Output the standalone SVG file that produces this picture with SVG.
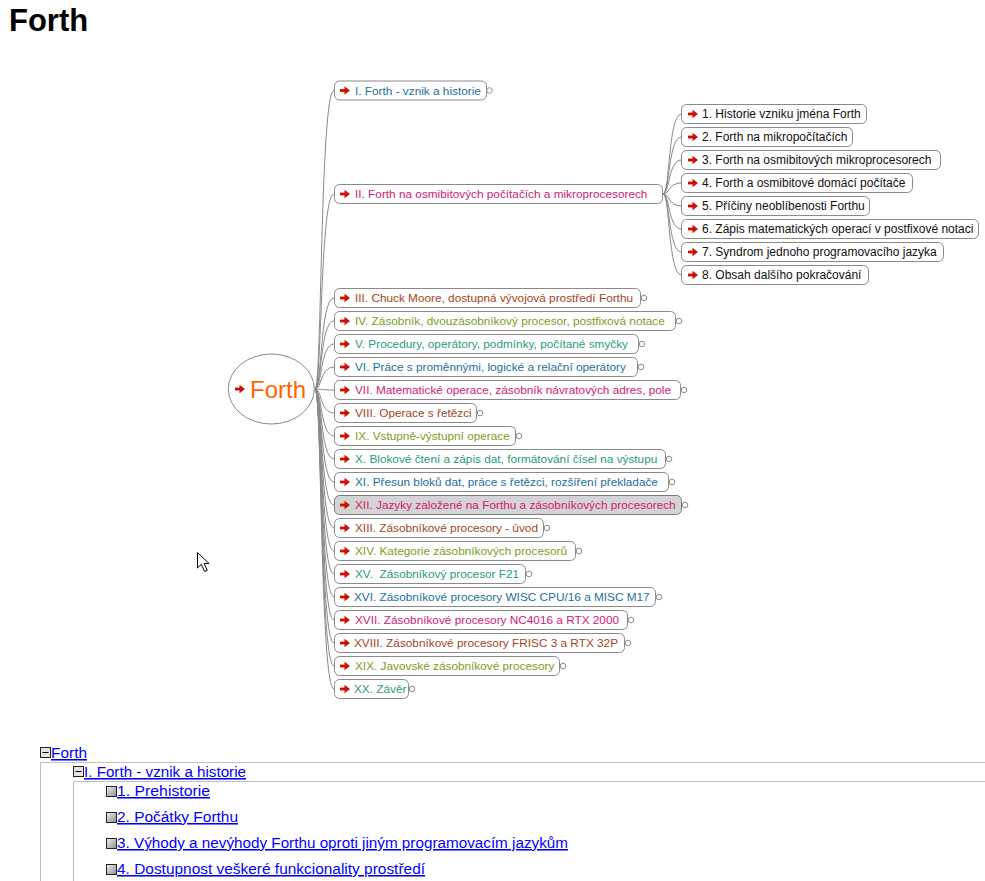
<svg xmlns="http://www.w3.org/2000/svg" xmlns:xlink="http://www.w3.org/1999/xlink" width="985" height="881" viewBox="0 0 985 881">
<style>
text{font-family:"Liberation Sans",Arial,sans-serif}
.box{fill:#fff;stroke:#8a8a8a;stroke-width:1}
.sel{fill:#d4d4d4;stroke:#7a7a7a;stroke-width:1}
.dot{fill:#fff;stroke:#8a8a8a;stroke-width:1}
.t{font-size:11.8px}
.s{font-size:12px}
.blue{fill:#21709e}.mag{fill:#d41a73}.brn{fill:#a4451e}.olv{fill:#7c9e1c}.teal{fill:#1f9d76}.blk{fill:#111}
.con{fill:none;stroke:#8a8a8a;stroke-width:1}
.link{font-size:15.5px;fill:#0000ff;text-decoration:underline}
.tree{stroke:#c0c0c0;stroke-width:1;fill:none}
</style>
<defs>
<g id="arr"><rect x="0" y="-1.4" width="5.5" height="2.8" fill="#cc1100"/><path d="M4.5,-4.2 L10,0 L4.5,4.2 Z" fill="#cc1100"/></g>
<linearGradient id="ig" x1="0" y1="0" x2="1" y2="1"><stop offset="0" stop-color="#f2f2f2"/><stop offset="1" stop-color="#8c8c8c"/></linearGradient>
<g id="minus"><rect x="0" y="0" width="10" height="10" fill="#e4e4e4" stroke="#222"/><line x1="2" y1="5" x2="8" y2="5" stroke="#000"/></g>
<rect id="leaf" x="0" y="0" width="10" height="10" fill="url(#ig)" stroke="#222"/>
</defs>
<rect width="985" height="881" fill="#fff"/>
<text x="9" y="31" font-size="31" font-weight="bold" fill="#000">Forth</text>

<g id="connectors">
<path class="con" d="M315,389 C322,389 320,90.5 334,90.5"/>
<path class="con" d="M315,389 C322,389 320,194 334,194"/>
<path class="con" d="M315,389 C322,389 320,298 334,298"/>
<path class="con" d="M315,389 C322,389 320,321 334,321"/>
<path class="con" d="M315,389 C322,389 320,344 334,344"/>
<path class="con" d="M315,389 C322,389 320,367 334,367"/>
<path class="con" d="M315,389 C322,389 320,390 334,390"/>
<path class="con" d="M315,389 C322,389 320,413 334,413"/>
<path class="con" d="M315,389 C322,389 320,436 334,436"/>
<path class="con" d="M315,389 C322,389 320,459 334,459"/>
<path class="con" d="M315,389 C322,389 320,482 334,482"/>
<path class="con" d="M315,389 C322,389 320,505 334,505"/>
<path class="con" d="M315,389 C322,389 320,528 334,528"/>
<path class="con" d="M315,389 C322,389 320,551 334,551"/>
<path class="con" d="M315,389 C322,389 320,574 334,574"/>
<path class="con" d="M315,389 C322,389 320,597 334,597"/>
<path class="con" d="M315,389 C322,389 320,620 334,620"/>
<path class="con" d="M315,389 C322,389 320,643 334,643"/>
<path class="con" d="M315,389 C322,389 320,666 334,666"/>
<path class="con" d="M315,389 C322,389 320,689 334,689"/>
<path class="con" d="M663,194 C670,194 668,114 681.5,114"/>
<path class="con" d="M663,194 C670,194 668,137 681.5,137"/>
<path class="con" d="M663,194 C670,194 668,160 681.5,160"/>
<path class="con" d="M663,194 C670,194 668,183 681.5,183"/>
<path class="con" d="M663,194 C670,194 668,206 681.5,206"/>
<path class="con" d="M663,194 C670,194 668,229 681.5,229"/>
<path class="con" d="M663,194 C670,194 668,252 681.5,252"/>
<path class="con" d="M663,194 C670,194 668,275 681.5,275"/>
</g>

<g id="root">
<ellipse cx="271.3" cy="389" rx="43" ry="35" fill="#fff" stroke="#8a8a8a"/>
<use xlink:href="#arr" href="#arr" x="235" y="389"/>
<text x="250" y="397.5" font-size="24" fill="#ff6600">Forth</text>
</g>

<g id="n1"><rect class="box" x="334.5" y="81" width="152" height="19" rx="5"/><use href="#arr" xlink:href="#arr" x="340" y="90.5"/><text class="t blue" x="355" y="94.5">I. Forth - vznik a historie</text><circle class="dot" cx="489.5" cy="90.5" r="2.8"/></g>
<g id="n2"><rect class="box" x="334.5" y="184.5" width="328" height="19" rx="5"/><use href="#arr" xlink:href="#arr" x="340" y="194"/><text class="t mag" x="355" y="198">II. Forth na osmibitových počítačích a mikroprocesorech</text></g>
<g id="n3"><rect class="box" x="334.5" y="288.5" width="306" height="19" rx="5"/><use href="#arr" xlink:href="#arr" x="340" y="298"/><text class="t brn" x="355" y="302">III. Chuck Moore, dostupná vývojová prostředí Forthu</text><circle class="dot" cx="644" cy="298" r="2.8"/></g>
<g id="n4"><rect class="box" x="334.5" y="311.5" width="341" height="19" rx="5"/><use href="#arr" xlink:href="#arr" x="340" y="321"/><text class="t olv" x="355" y="325">IV. Zásobník, dvouzásobníkový procesor, postfixová notace</text><circle class="dot" cx="679" cy="321" r="2.8"/></g>
<g id="n5"><rect class="box" x="334.5" y="334.5" width="304" height="19" rx="5"/><use href="#arr" xlink:href="#arr" x="340" y="344"/><text class="t teal" x="355" y="348">V. Procedury, operátory, podmínky, počítané smyčky</text><circle class="dot" cx="642" cy="344" r="2.8"/></g>
<g id="n6"><rect class="box" x="334.5" y="357.5" width="303" height="19" rx="5"/><use href="#arr" xlink:href="#arr" x="340" y="367"/><text class="t blue" x="355" y="371">VI. Práce s proměnnými, logické a relační operátory</text><circle class="dot" cx="641" cy="367" r="2.8"/></g>
<g id="n7"><rect class="box" x="334.5" y="380.5" width="346" height="19" rx="5"/><use href="#arr" xlink:href="#arr" x="340" y="390"/><text class="t mag" x="355" y="394">VII. Matematické operace, zásobník návratových adres, pole</text><circle class="dot" cx="684" cy="390" r="2.8"/></g>
<g id="n8"><rect class="box" x="334.5" y="403.5" width="142" height="19" rx="5"/><use href="#arr" xlink:href="#arr" x="340" y="413"/><text class="t brn" x="355" y="417">VIII. Operace s řetězci</text><circle class="dot" cx="480" cy="413" r="2.8"/></g>
<g id="n9"><rect class="box" x="334.5" y="426.5" width="181" height="19" rx="5"/><use href="#arr" xlink:href="#arr" x="340" y="436"/><text class="t olv" x="355" y="440">IX. Vstupně-výstupní operace</text><circle class="dot" cx="519" cy="436" r="2.8"/></g>
<g id="n10"><rect class="box" x="334.5" y="449.5" width="331" height="19" rx="5"/><use href="#arr" xlink:href="#arr" x="340" y="459"/><text class="t teal" x="355" y="463">X. Blokové čtení a zápis dat, formátování čísel na výstupu</text><circle class="dot" cx="669" cy="459" r="2.8"/></g>
<g id="n11"><rect class="box" x="334.5" y="472.5" width="334" height="19" rx="5"/><use href="#arr" xlink:href="#arr" x="340" y="482"/><text class="t blue" x="355" y="486">XI. Přesun bloků dat, práce s řetězci, rozšíření překladače</text><circle class="dot" cx="672" cy="482" r="2.8"/></g>
<g id="n12"><rect class="sel" x="334.5" y="495.5" width="347" height="19" rx="5"/><use href="#arr" xlink:href="#arr" x="340" y="505"/><text class="t mag" x="355" y="509">XII. Jazyky založené na Forthu a zásobníkových procesorech</text><circle class="dot" cx="685" cy="505" r="2.8"/></g>
<g id="n13"><rect class="box" x="334.5" y="518.5" width="209" height="19" rx="5"/><use href="#arr" xlink:href="#arr" x="340" y="528"/><text class="t brn" x="355" y="532">XIII. Zásobníkové procesory - úvod</text><circle class="dot" cx="547" cy="528" r="2.8"/></g>
<g id="n14"><rect class="box" x="334.5" y="541.5" width="241" height="19" rx="5"/><use href="#arr" xlink:href="#arr" x="340" y="551"/><text class="t olv" x="355" y="555">XIV. Kategorie zásobníkových procesorů</text><circle class="dot" cx="579" cy="551" r="2.8"/></g>
<g id="n15"><rect class="box" x="334.5" y="564.5" width="191" height="19" rx="5"/><use href="#arr" xlink:href="#arr" x="340" y="574"/><text class="t teal" x="355" y="578" xml:space="preserve">XV.  Zásobníkový procesor F21</text><circle class="dot" cx="529" cy="574" r="2.8"/></g>
<g id="n16"><rect class="box" x="334.5" y="587.5" width="321" height="19" rx="5"/><use href="#arr" xlink:href="#arr" x="340" y="597"/><text class="t blue" x="354" y="601">XVI. Zásobníkové procesory WISC CPU/16 a MISC M17</text><circle class="dot" cx="659" cy="597" r="2.8"/></g>
<g id="n17"><rect class="box" x="334.5" y="610.5" width="293" height="19" rx="5"/><use href="#arr" xlink:href="#arr" x="340" y="620"/><text class="t mag" x="355" y="624">XVII. Zásobníkové procesory NC4016 a RTX 2000</text><circle class="dot" cx="631" cy="620" r="2.8"/></g>
<g id="n18"><rect class="box" x="334.5" y="633.5" width="290" height="19" rx="5"/><use href="#arr" xlink:href="#arr" x="340" y="643"/><text class="t brn" x="354" y="647">XVIII. Zásobníkové procesory FRISC 3 a RTX 32P</text><circle class="dot" cx="628" cy="643" r="2.8"/></g>
<g id="n19"><rect class="box" x="334.5" y="656.5" width="225" height="19" rx="5"/><use href="#arr" xlink:href="#arr" x="340" y="666"/><text class="t olv" x="355" y="670">XIX. Javovské zásobníkové procesory</text><circle class="dot" cx="563" cy="666" r="2.8"/></g>
<g id="n20"><rect class="box" x="334.5" y="679.5" width="74" height="19" rx="5"/><use href="#arr" xlink:href="#arr" x="340" y="689"/><text class="t teal" x="354" y="693">XX. Závěr</text><circle class="dot" cx="412" cy="689" r="2.8"/></g>

<g id="s1"><rect class="box" x="681.5" y="104.5" width="185" height="19" rx="5"/><use href="#arr" xlink:href="#arr" x="688" y="114"/><text class="s blk" x="702" y="118">1. Historie vzniku jména Forth</text></g>
<g id="s2"><rect class="box" x="681.5" y="127.5" width="171" height="19" rx="5"/><use href="#arr" xlink:href="#arr" x="688" y="137"/><text class="s blk" x="702" y="141">2. Forth na mikropočítačích</text></g>
<g id="s3"><rect class="box" x="681.5" y="150.5" width="259" height="19" rx="5"/><use href="#arr" xlink:href="#arr" x="688" y="160"/><text class="s blk" x="702" y="164">3. Forth na osmibitových mikroprocesorech</text></g>
<g id="s4"><rect class="box" x="681.5" y="173.5" width="231" height="19" rx="5"/><use href="#arr" xlink:href="#arr" x="688" y="183"/><text class="s blk" x="702" y="187">4. Forth a osmibitové domácí počítače</text></g>
<g id="s5"><rect class="box" x="681.5" y="196.5" width="188" height="19" rx="5"/><use href="#arr" xlink:href="#arr" x="688" y="206"/><text class="s blk" x="702" y="210">5. Příčiny neoblíbenosti Forthu</text></g>
<g id="s6"><rect class="box" x="681.5" y="219.5" width="297" height="19" rx="5"/><use href="#arr" xlink:href="#arr" x="688" y="229"/><text class="s blk" x="702" y="233">6. Zápis matematických operací v postfixové notaci</text></g>
<g id="s7"><rect class="box" x="681.5" y="242.5" width="262" height="19" rx="5"/><use href="#arr" xlink:href="#arr" x="688" y="252"/><text class="s blk" x="702" y="256">7. Syndrom jednoho programovacího jazyka</text></g>
<g id="s8"><rect class="box" x="681.5" y="265.5" width="187" height="19" rx="5"/><use href="#arr" xlink:href="#arr" x="688" y="275"/><text class="s blk" x="702" y="279">8. Obsah dalšího pokračování</text></g>

<path d="M197.5,552.5 L197.5,568 L201.3,564.4 L204.6,571.5 L207.2,570.3 L204.1,563.5 L209,563.5 Z" fill="#fff" stroke="#000" stroke-width="1" stroke-linejoin="miter"/>

<g id="outline">
<path class="tree" d="M40.5,881 V762.5 H985"/>
<path class="tree" d="M73.5,881 V781.5 H985"/>
<use href="#minus" xlink:href="#minus" x="40.5" y="747.5"/>
<text class="link" x="51" y="758" textLength="36" lengthAdjust="spacingAndGlyphs">Forth</text>
<use href="#minus" xlink:href="#minus" x="73.5" y="766.5"/>
<text class="link" x="84" y="777" textLength="162" lengthAdjust="spacingAndGlyphs">I. Forth - vznik a historie</text>
<use href="#leaf" xlink:href="#leaf" x="106.5" y="786.5"/>
<text class="link" x="117" y="796" textLength="93" lengthAdjust="spacingAndGlyphs">1. Prehistorie</text>
<use href="#leaf" xlink:href="#leaf" x="106.5" y="812.5"/>
<text class="link" x="117" y="822" textLength="121" lengthAdjust="spacingAndGlyphs">2. Počátky Forthu</text>
<use href="#leaf" xlink:href="#leaf" x="106.5" y="838.5"/>
<text class="link" x="117" y="848" textLength="451" lengthAdjust="spacingAndGlyphs">3. Výhody a nevýhody Forthu oproti jiným programovacím jazykům</text>
<use href="#leaf" xlink:href="#leaf" x="106.5" y="864.5"/>
<text class="link" x="117" y="874" textLength="308" lengthAdjust="spacingAndGlyphs">4. Dostupnost veškeré funkcionality prostředí</text>
</g>
</svg>
